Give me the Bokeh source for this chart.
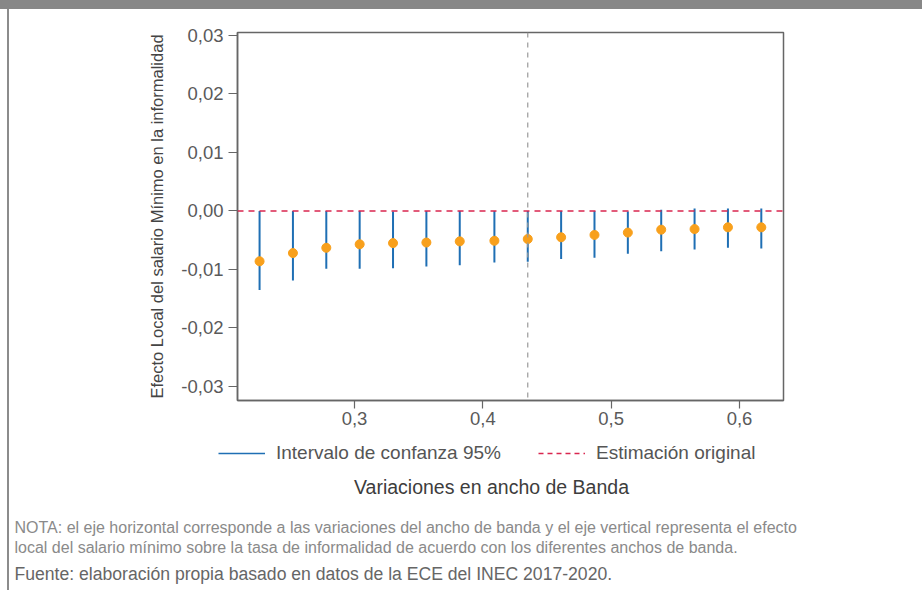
import math
from bokeh.plotting import figure
from bokeh.layouts import column
from bokeh.models import (CustomJSTickFormatter, FixedTicker, Span, Legend, LegendItem,
                          Label, ColumnDataSource, Range1d)
from bokeh.embed import file_html
from bokeh.resources import INLINE

# ---- data ----
bandwidth = [0.226, 0.252, 0.278, 0.304, 0.330, 0.356, 0.382, 0.409,
             0.435, 0.461, 0.487, 0.513, 0.539, 0.565, 0.591, 0.617]
estimate = [-0.0086, -0.0072, -0.0063, -0.0057, -0.0055, -0.0054, -0.0052, -0.0051,
            -0.0048, -0.0045, -0.0041, -0.0037, -0.0032, -0.0031, -0.0028, -0.0028]
ci_lower = [-0.0135, -0.0119, -0.0099, -0.0099, -0.0098, -0.0095, -0.0093, -0.0088,
            -0.0087, -0.0082, -0.0080, -0.0073, -0.0069, -0.0066, -0.0063, -0.0064]
ci_upper = [0.0000, 0.0000, 0.0000, 0.0000, -0.0001, 0.0000, 0.0000, 0.0000,
            0.0000, 0.0000, 0.0000, -0.0001, 0.0002, 0.0004, 0.0004, 0.0004]
original_bandwidth = 0.435
reference_effect = 0.0
x_ticks = [0.3, 0.4, 0.5, 0.6]
y_ticks = [-0.03, -0.02, -0.01, 0.0, 0.01, 0.02, 0.03]

y_title = "Efecto Local del salario Mínimo en la informalidad"
x_title = "Variaciones en ancho de Banda"
legend_ci = "Intervalo de confanza 95%"
legend_ref = "Estimación original"
note_1 = "NOTA: el eje horizontal corresponde a las variaciones del ancho de banda y el eje vertical representa el efecto"
note_2 = "local del salario mínimo sobre la tasa de informalidad de acuerdo con los diferentes anchos de banda."
source_note = "Fuente: elaboración propia basado en datos de la ECE del INEC 2017-2020."

FONT = "Liberation Sans"
W = 922
H_CHART, H_LOW = 440, 150
CI_COLOR, DOT_COLOR, REF_COLOR = "#1f6fb4", "#f8a01c", "#d9264f"
LEFT_RULE = "linear-gradient(#8c8c8c, #8c8c8c)"

# ---------------- chart ----------------
p = figure(width=W, height=H_CHART, output_backend="svg", toolbar_location=None,
           x_range=(0.2088, 0.6343), y_range=(-0.0324, 0.0305),
           min_border_left=237, min_border_right=139, min_border_top=32,
           min_border_bottom=40)
p.frame_align = False
p.grid.visible = False
p.outline_line_color = "#666666"
p.outline_line_width = 1.5
p.background_fill_color = "white"
p.border_fill_alpha = 0
p.styles = {
    "background-color": "white",
    "background-image": "linear-gradient(#878787, #878787), " + LEFT_RULE,
    "background-size": "100% 9px, 2px 100%",
    "background-position": "0 0, 7px 0",
    "background-repeat": "no-repeat",
}

p.xaxis.ticker = FixedTicker(ticks=x_ticks)
p.yaxis.ticker = FixedTicker(ticks=y_ticks)
p.xaxis.formatter = CustomJSTickFormatter(code="return tick.toFixed(1).replace('.', ',');")
p.yaxis.formatter = CustomJSTickFormatter(
    code="var s = tick.toFixed(2).replace('.', ','); return s == '-0,00' ? '0,00' : s;")
for ax in (p.xaxis, p.yaxis):
    ax.axis_line_color = "#666666"
    ax.axis_line_width = 1.5
    ax.major_tick_line_color = "#666666"
    ax.major_tick_line_width = 1.2
    ax.major_tick_in = 0
    ax.minor_tick_line_color = None
    ax.major_label_text_font = FONT
    ax.major_label_text_font_size = "18.5px"
    ax.major_label_text_color = "#5a5a5a"
p.xaxis.major_tick_out = 8
p.xaxis.major_label_standoff = 3
p.yaxis.major_tick_out = 9
p.yaxis.major_label_standoff = 5
p.yaxis.axis_label = y_title
p.yaxis.axis_label_text_font = FONT
p.yaxis.axis_label_text_font_size = "16.5px"
p.yaxis.axis_label_text_font_style = "normal"
p.yaxis.axis_label_text_color = "#444444"
p.yaxis.axis_label_standoff = 12

p.add_layout(Span(location=reference_effect, dimension="width", line_color=REF_COLOR,
                  line_dash="6 5", line_width=1.5))
p.add_layout(Span(location=original_bandwidth, dimension="height", line_color="#9a9a9a",
                  line_dash="5 5", line_width=1.2))

src = ColumnDataSource(dict(x=bandwidth, est=estimate, lo=ci_lower, hi=ci_upper))
p.segment(x0="x", y0="lo", x1="x", y1="hi", source=src, line_color=CI_COLOR, line_width=2)
p.scatter(x="x", y="est", source=src, size=9, fill_color=DOT_COLOR, line_color=DOT_COLOR)

# ---------------- legend, axis title and notes ----------------
# pixel-like coordinates: x from the left, y from the top of this strip
q = figure(width=W, height=H_LOW, output_backend="svg", toolbar_location=None,
           x_range=Range1d(0, W), y_range=Range1d(H_LOW, 0),
           x_axis_location=None, y_axis_location=None, min_border=0)
q.frame_align = False
q.grid.visible = False
q.outline_line_color = None
q.background_fill_alpha = 0
q.border_fill_alpha = 0
q.styles = {
    "background-color": "white",
    "background-image": LEFT_RULE,
    "background-size": "2px 100%",
    "background-position": "7px 0",
    "background-repeat": "no-repeat",
}

ci_key = q.line(x=[math.nan], y=[math.nan], line_color=CI_COLOR, line_width=1.5)
ref_key = q.line(x=[math.nan], y=[math.nan], line_color=REF_COLOR, line_width=1.3,
                 line_dash="5 4")
legend = Legend(items=[LegendItem(label=legend_ci, renderers=[ci_key]),
                       LegendItem(label=legend_ref, renderers=[ref_key])],
                orientation="horizontal", location=(218, H_LOW - 24),
                glyph_width=47, glyph_height=20, label_height=20, label_standoff=11,
                spacing=37, padding=0, margin=0,
                border_line_color=None, background_fill_alpha=0,
                label_text_font=FONT, label_text_font_size="19px",
                label_text_color="#555555")
q.add_layout(legend, "center")

def add_text(txt, x, y, size, color, align="left"):
    q.add_layout(Label(x=x, y=y, text=txt, text_font=FONT, text_font_size=size,
                       text_color=color, text_align=align, text_baseline="middle"))

add_text(x_title, 491, 46, "19.5px", "#3d3d3d", align="center")
add_text(note_1, 14, 87, "16px", "#8a8a8a")
add_text(note_2, 14, 107, "16px", "#8a8a8a")
add_text(source_note, 14, 133, "17.6px", "#666666")

layout = column(p, q, spacing=0)
open("out.html", "w").write(file_html(layout, INLINE))
